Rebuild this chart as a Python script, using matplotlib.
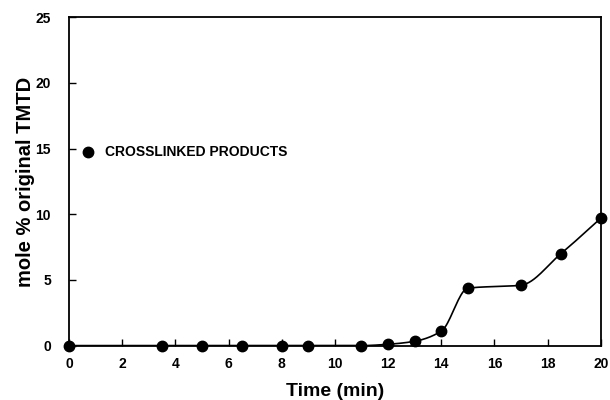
import numpy as np
import matplotlib
matplotlib.use("Agg")
import matplotlib.pyplot as plt

# crosslinked products formed vs. cure time
time_min = [0, 3.5, 5, 6.5, 8, 9, 11, 12, 13, 14, 15, 17, 18.5, 20]
mole_pct = [0, 0, 0, 0, 0, 0, 0, 0.1, 0.33, 1.1, 4.37, 4.6, 7.0, 9.7]

x_ticks = [0, 2, 4, 6, 8, 10, 12, 14, 16, 18, 20]
y_ticks = [0, 5, 10, 15, 20, 25]


def pchip(x, y, xs):
    """Monotone cubic (Fritsch-Carlson) curve through the points."""
    x = np.asarray(x, float)
    y = np.asarray(y, float)
    h = np.diff(x)
    d = np.diff(y) / h
    m = np.zeros_like(y)
    for k in range(1, len(x) - 1):
        if d[k - 1] * d[k] > 0:
            w1 = 2 * h[k] + h[k - 1]
            w2 = h[k] + 2 * h[k - 1]
            m[k] = (w1 + w2) / (w1 / d[k - 1] + w2 / d[k])
    m[0] = d[0]
    m[-1] = d[-1]
    idx = np.clip(np.searchsorted(x, xs) - 1, 0, len(x) - 2)
    t = (xs - x[idx]) / h[idx]
    h00 = 2 * t**3 - 3 * t**2 + 1
    h10 = t**3 - 2 * t**2 + t
    h01 = -2 * t**3 + 3 * t**2
    h11 = t**3 - t**2
    return (h00 * y[idx] + h10 * h[idx] * m[idx]
            + h01 * y[idx + 1] + h11 * h[idx] * m[idx + 1])


plt.rcParams['font.family'] = ['Liberation Sans', 'DejaVu Sans']

fig = plt.figure(figsize=(6.1, 4.0), dpi=100)
ax = fig.add_axes([0.113, 0.136, 0.872, 0.821])

xs = np.linspace(time_min[0], time_min[-1], 400)
ax.plot(xs, pchip(time_min, mole_pct, xs), color='black', lw=1.2)
ax.plot(time_min, mole_pct, 'o', color='black', ms=7.5, clip_on=False, zorder=3)

ax.set_xlim(0, 20)
ax.set_ylim(0, 25)
ax.set_xticks(x_ticks)
ax.set_yticks(y_ticks)
ax.tick_params(direction='in', length=5, width=1, labelsize=10)
ax.tick_params(axis='x', pad=8)
ax.tick_params(axis='y', pad=13)
for lab in ax.get_xticklabels() + ax.get_yticklabels():
    lab.set_fontweight('bold')
for s in ax.spines.values():
    s.set_linewidth(1.3)

ax.set_xlabel('Time (min)', fontsize=14, fontweight='bold', labelpad=9)
ax.set_ylabel('mole % original TMTD', fontsize=14.5, fontweight='bold', labelpad=0)

# legend entry drawn as a marker with a label
ax.plot([0.71], [14.75], 'o', color='black', ms=7.5)
ax.text(1.35, 14.75, 'CROSSLINKED PRODUCTS', fontsize=10, fontweight='bold',
        va='center', ha='left')

fig.savefig('out.png', dpi=100)
